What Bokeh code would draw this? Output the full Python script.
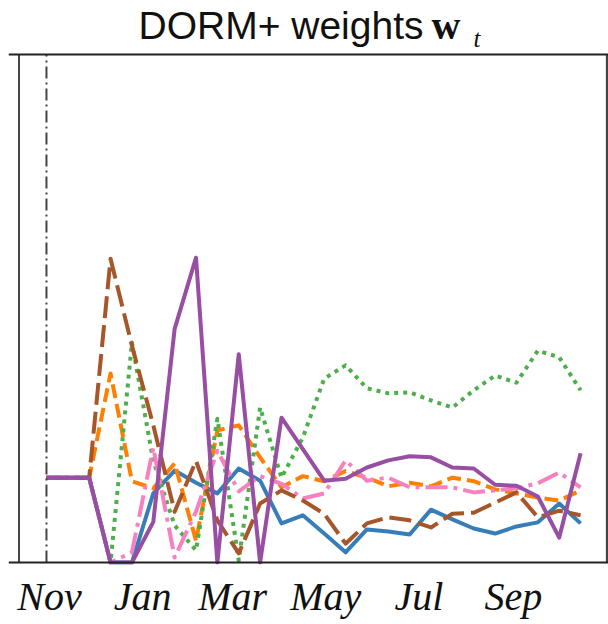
import pandas as pd
from bokeh.plotting import figure
from bokeh.models import Span, Label, Range1d, FixedTicker, ColumnDataSource
from bokeh.embed import file_html
from bokeh.resources import INLINE

# ---------------- data ----------------
start_date = "2020-10-30"
n_points = 26
dates = pd.date_range(start_date, periods=n_points, freq="14D")

blue = [0.167, 0.167, 0.167, 0.0, 0.0, 0.136, 0.181, 0.157, 0.136, 0.185, 0.161, 0.077, 0.093,
        0.057, 0.020, 0.065, 0.061, 0.055, 0.104, 0.085, 0.067, 0.057, 0.071, 0.079, 0.116, 0.077]
orange = [0.167, 0.167, 0.167, 0.372, 0.16, 0.146, 0.195, 0.043, 0.26, 0.27, 0.207, 0.148, 0.17,
          0.16, 0.18, 0.167, 0.15, 0.157, 0.15, 0.167, 0.16, 0.144, 0.136, 0.128, 0.122, 0.142]
green = [0.167, 0.167, 0.167, 0.0, 0.433, 0.20, 0.073, 0.024, 0.283, 0.004, 0.305, 0.167, 0.246,
         0.362, 0.388, 0.343, 0.333, 0.335, 0.319, 0.305, 0.339, 0.368, 0.354, 0.417, 0.404, 0.339]
pink = [0.167, 0.167, 0.167, 0.0, 0.02, 0.226, 0.01, 0.10, 0.22, 0.14, 0.17, 0.155, 0.126,
        0.136, 0.201, 0.161, 0.167, 0.148, 0.148, 0.148, 0.138, 0.142, 0.146, 0.156, 0.177, 0.148]
brown = [0.167, 0.167, 0.167, 0.598, 0.427, 0.27, 0.10, 0.20, 0.083, 0.018, 0.116, 0.142, 0.122,
         0.096, 0.037, 0.077, 0.089, 0.083, 0.069, 0.096, 0.098, 0.118, 0.138, 0.089, 0.102, 0.093]
purple = [0.167, 0.167, 0.167, 0.0, 0.0, 0.08, 0.46, 0.60, 0.0, 0.41, 0.0, 0.285, 0.223,
          0.161, 0.165, 0.187, 0.201, 0.209, 0.207, 0.187, 0.185, 0.153, 0.151, 0.130, 0.049, 0.215]

tick_dates = ["2020-11-01", "2021-01-01", "2021-03-01", "2021-05-01", "2021-07-01", "2021-09-01"]
tick_labels = ["Nov", "Jan", "Mar", "May", "Jul", "Sep"]

title_main = "DORM+ weights"
title_symbol = "w"
title_subscript = "t"

x_start = "2020-10-05 03:00"
x_end = "2021-11-02 07:00"
right_border_date = "2021-11-01 09:00"
solid_marker_date = "2020-10-12"
start_marker_date = start_date
y_lo, y_hi = -2 / 508, 562 / 508   # weights axis 0..1 with room above for the title


def ms(d):
    return pd.Timestamp(d).timestamp() * 1000.0


src = ColumnDataSource(dict(date=dates, blue=blue, orange=orange, green=green,
                            pink=pink, brown=brown, purple=purple))

p = figure(frame_width=600, frame_height=564, x_axis_type="datetime",
           output_backend="svg", toolbar_location=None,
           x_range=Range1d(pd.Timestamp(x_start), pd.Timestamp(x_end)),
           y_range=Range1d(y_lo, y_hi),
           min_border_left=8, min_border_right=0, min_border_top=0, min_border_bottom=60,
           y_axis_location=None)
p.outline_line_color = None
p.grid.visible = False
p.background_fill_color = "white"
p.border_fill_color = "white"

styles = [
    ("blue", "#377eb8", "solid"),
    ("orange", "#ff7f00", "14 6"),
    ("green", "#4daf4a", "4 5"),
    ("pink", "#f781bf", "22 6 4 6"),
    ("brown", "#a65628", "22 7"),
    ("purple", "#984ea3", "solid"),
]
for col, color, dash in styles:
    p.line(x="date", y=col, source=src, line_color=color, line_width=4,
           line_dash=dash, line_join="round")

# frame borders and vertical markers
p.add_layout(Span(location=1, dimension="width", line_color="#222222", line_width=2))
p.add_layout(Span(location=0, dimension="width", line_color="#222222", line_width=2))
vx = [ms(right_border_date), ms(solid_marker_date)]
p.segment(x0=vx, y0=[0, 0], x1=vx, y1=[1, 1], line_color="#444444", line_width=[2.5, 2])
p.segment(x0=[ms(start_marker_date)], y0=[0], x1=[ms(start_marker_date)], y1=[1],
          line_color="#444444", line_width=2, line_dash="12 4 2 4")

# x axis
tick_ms = [ms(d) for d in tick_dates]
p.xaxis.ticker = FixedTicker(ticks=tick_ms)
p.xaxis.major_label_overrides = {t: lab for t, lab in zip(tick_ms, tick_labels)}
p.xaxis.axis_line_color = None
p.xaxis.major_tick_line_color = None
p.xaxis.minor_tick_line_color = None
p.xaxis.major_label_standoff = 3
p.xaxis.major_label_text_font = "Liberation Serif"
p.xaxis.major_label_text_font_style = "italic"
p.xaxis.major_label_text_font_size = "40px"
p.xaxis.major_label_text_color = "#111111"

# title pieces (inside the frame, above the weights area)
p.add_layout(Label(x=130, y=539, x_units="screen", y_units="screen", text=title_main,
                   text_font="Liberation Sans", text_font_size="39px",
                   text_baseline="alphabetic", text_color="#111111"))
p.add_layout(Label(x=423, y=539, x_units="screen", y_units="screen", text=title_symbol,
                   text_font="Liberation Serif", text_font_style="bold", text_font_size="40px",
                   text_baseline="alphabetic", text_color="#111111"))
p.add_layout(Label(x=465, y=526, x_units="screen", y_units="screen", text=title_subscript,
                   text_font="Liberation Serif", text_font_style="italic", text_font_size="25px",
                   text_baseline="alphabetic", text_color="#111111"))

open("out.html", "w").write(file_html(p, INLINE))
